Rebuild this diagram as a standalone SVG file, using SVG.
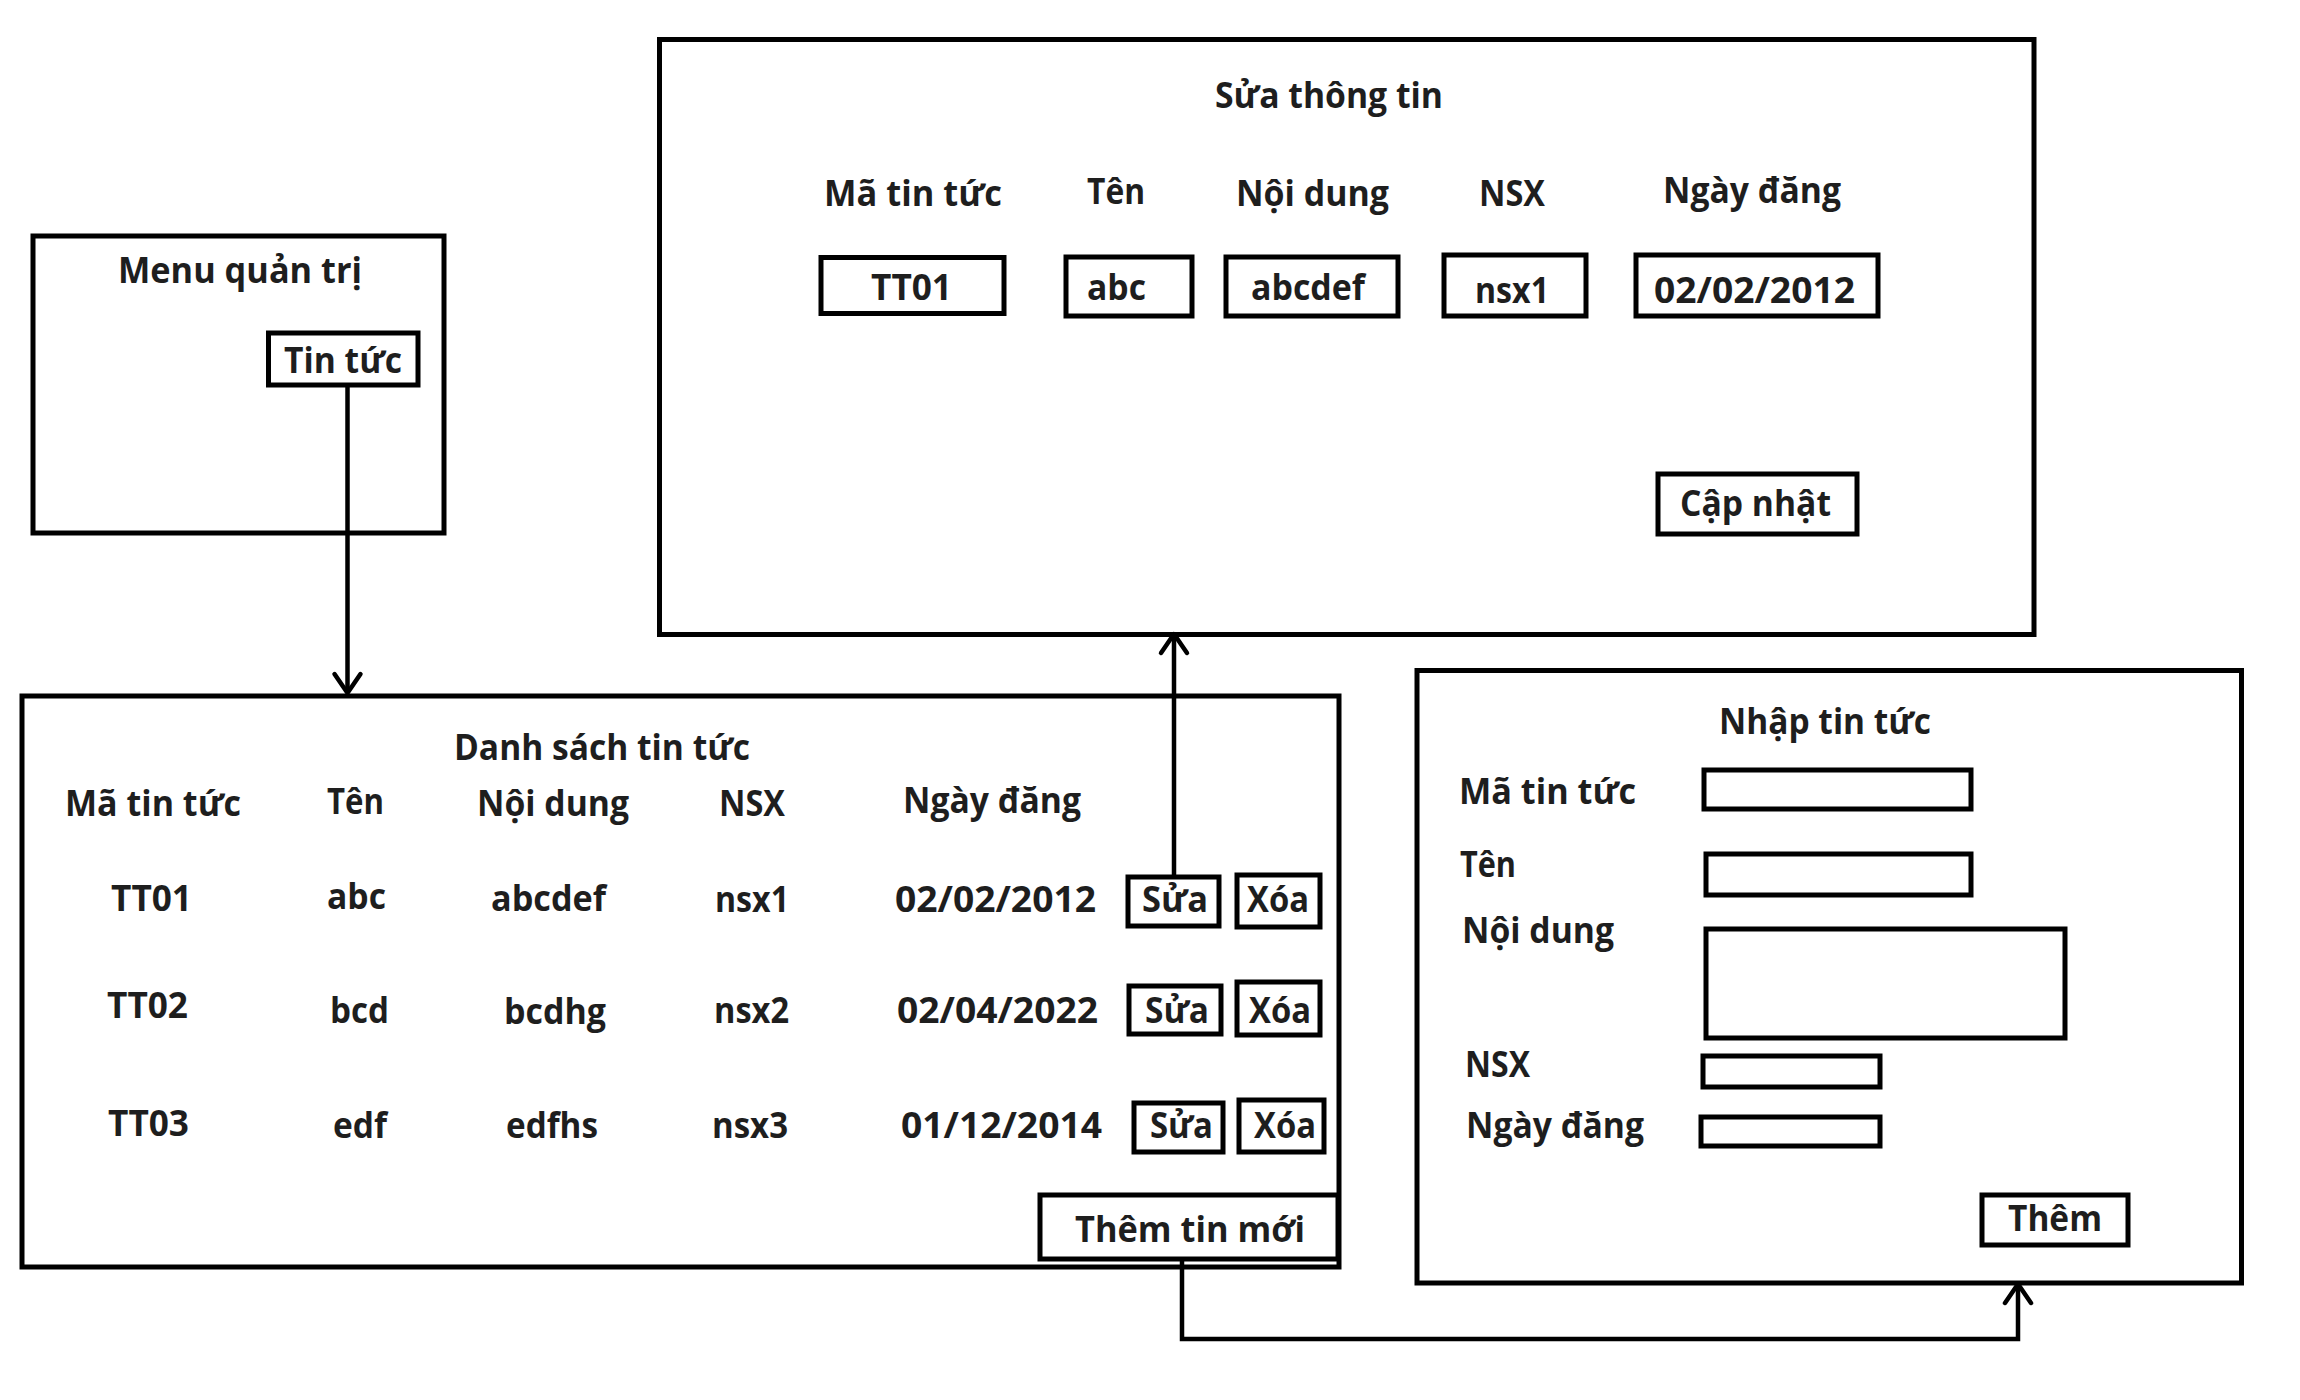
<svg xmlns="http://www.w3.org/2000/svg" width="2300" height="1400" viewBox="0 0 2300 1400">
<style>
.box{fill:#fff;stroke:#000;stroke-width:5}
.inp{fill:none;stroke:#000;stroke-width:5}
.t{font-family:"Open Sans","Noto Sans","DejaVu Sans",sans-serif;font-weight:700;font-size:36px;fill:#1e1e1e}
.conn{fill:none;stroke:#000;stroke-width:4.5}
</style>
<defs>
<marker id="arr" markerUnits="userSpaceOnUse" viewBox="-24 -18 28 36" markerWidth="28" markerHeight="36" refX="0" refY="0" orient="auto" overflow="visible">
<path d="M-19,-13 L0,0 L-19,13" fill="none" stroke="#000" stroke-width="4.5" stroke-linecap="round" stroke-linejoin="round"/>
</marker>
</defs>
<rect width="2300" height="1400" fill="#fff"/>

<g id="menu">
<rect class="box" x="33" y="236" width="411" height="297"/>
<text class="t" x="118" y="283" textLength="244" lengthAdjust="spacingAndGlyphs">Menu quản trị</text>
<rect class="inp" x="268.5" y="333" width="149.5" height="52"/>
<text class="t" x="284" y="373" textLength="118" lengthAdjust="spacingAndGlyphs">Tin tức</text>
</g>

<g id="sua-thong-tin">
<rect class="box" x="659.5" y="39.5" width="1374.5" height="595"/>
<text class="t" x="1215" y="108" textLength="228" lengthAdjust="spacingAndGlyphs">Sửa thông tin</text>
<text class="t" x="824" y="206" textLength="178" lengthAdjust="spacingAndGlyphs">Mã tin tức</text>
<text class="t" x="1087" y="204" textLength="58" lengthAdjust="spacingAndGlyphs">Tên</text>
<text class="t" x="1236" y="206" textLength="153" lengthAdjust="spacingAndGlyphs">Nội dung</text>
<text class="t" x="1479" y="206" textLength="66" lengthAdjust="spacingAndGlyphs">NSX</text>
<text class="t" x="1663" y="203" textLength="178" lengthAdjust="spacingAndGlyphs">Ngày đăng</text>
<rect class="inp" x="821" y="257.5" width="183" height="56"/>
<rect class="inp" x="1066" y="257" width="126" height="59"/>
<rect class="inp" x="1226" y="257" width="172" height="59"/>
<rect class="inp" x="1444" y="255" width="142" height="61"/>
<rect class="inp" x="1636" y="255" width="242" height="61"/>
<text class="t" x="871" y="300" textLength="81" lengthAdjust="spacingAndGlyphs">TT01</text>
<text class="t" x="1087" y="300" textLength="59" lengthAdjust="spacingAndGlyphs">abc</text>
<text class="t" x="1251" y="300" textLength="114" lengthAdjust="spacingAndGlyphs">abcdef</text>
<text class="t" x="1475" y="303" textLength="74" lengthAdjust="spacingAndGlyphs">nsx1</text>
<text class="t" x="1654" y="303" textLength="201" lengthAdjust="spacingAndGlyphs">02/02/2012</text>
<rect class="inp" x="1658" y="474" width="199" height="60"/>
<text class="t" x="1680" y="516" textLength="151" lengthAdjust="spacingAndGlyphs">Cập nhật</text>
</g>

<g id="danh-sach">
<rect class="box" x="22" y="696" width="1317" height="571"/>
<text class="t" x="454" y="760" textLength="296" lengthAdjust="spacingAndGlyphs">Danh sách tin tức</text>
<text class="t" x="65" y="816" textLength="176" lengthAdjust="spacingAndGlyphs">Mã tin tức</text>
<text class="t" x="327" y="814" textLength="57" lengthAdjust="spacingAndGlyphs">Tên</text>
<text class="t" x="477" y="816" textLength="152" lengthAdjust="spacingAndGlyphs">Nội dung</text>
<text class="t" x="719" y="816" textLength="66" lengthAdjust="spacingAndGlyphs">NSX</text>
<text class="t" x="903" y="813" textLength="178" lengthAdjust="spacingAndGlyphs">Ngày đăng</text>

<text class="t" x="111" y="911" textLength="81" lengthAdjust="spacingAndGlyphs">TT01</text>
<text class="t" x="327" y="909" textLength="59" lengthAdjust="spacingAndGlyphs">abc</text>
<text class="t" x="491" y="911" textLength="115" lengthAdjust="spacingAndGlyphs">abcdef</text>
<text class="t" x="715" y="912" textLength="74" lengthAdjust="spacingAndGlyphs">nsx1</text>
<text class="t" x="895" y="912" textLength="201" lengthAdjust="spacingAndGlyphs">02/02/2012</text>
<rect class="inp" x="1128" y="877" width="91" height="49"/>
<rect class="inp" x="1237" y="875" width="83" height="52"/>
<text class="t" x="1142" y="912" textLength="66" lengthAdjust="spacingAndGlyphs">Sửa</text>
<text class="t" x="1247" y="912" textLength="62" lengthAdjust="spacingAndGlyphs">Xóa</text>

<text class="t" x="107" y="1018" textLength="81" lengthAdjust="spacingAndGlyphs">TT02</text>
<text class="t" x="330" y="1023" textLength="59" lengthAdjust="spacingAndGlyphs">bcd</text>
<text class="t" x="504" y="1024" textLength="102" lengthAdjust="spacingAndGlyphs">bcdhg</text>
<text class="t" x="714" y="1023" textLength="75" lengthAdjust="spacingAndGlyphs">nsx2</text>
<text class="t" x="897" y="1023" textLength="201" lengthAdjust="spacingAndGlyphs">02/04/2022</text>
<rect class="inp" x="1129" y="986" width="92" height="48"/>
<rect class="inp" x="1237" y="982" width="83" height="53"/>
<text class="t" x="1145" y="1023" textLength="64" lengthAdjust="spacingAndGlyphs">Sửa</text>
<text class="t" x="1249" y="1023" textLength="62" lengthAdjust="spacingAndGlyphs">Xóa</text>

<text class="t" x="108" y="1136" textLength="81" lengthAdjust="spacingAndGlyphs">TT03</text>
<text class="t" x="333" y="1138" textLength="54" lengthAdjust="spacingAndGlyphs">edf</text>
<text class="t" x="506" y="1138" textLength="92" lengthAdjust="spacingAndGlyphs">edfhs</text>
<text class="t" x="712" y="1138" textLength="76" lengthAdjust="spacingAndGlyphs">nsx3</text>
<text class="t" x="901" y="1138" textLength="201" lengthAdjust="spacingAndGlyphs">01/12/2014</text>
<rect class="inp" x="1134" y="1103" width="89" height="49"/>
<rect class="inp" x="1239" y="1100" width="85" height="52"/>
<text class="t" x="1150" y="1138" textLength="63" lengthAdjust="spacingAndGlyphs">Sửa</text>
<text class="t" x="1254" y="1138" textLength="62" lengthAdjust="spacingAndGlyphs">Xóa</text>

<rect class="box" x="1040" y="1195" width="298" height="64"/>
<text class="t" x="1075" y="1242" textLength="230" lengthAdjust="spacingAndGlyphs">Thêm tin mới</text>
</g>

<g id="nhap-tin-tuc">
<rect class="box" x="1417" y="670.5" width="824.5" height="612.5"/>
<text class="t" x="1719" y="734" textLength="212" lengthAdjust="spacingAndGlyphs">Nhập tin tức</text>
<text class="t" x="1459" y="804" textLength="177" lengthAdjust="spacingAndGlyphs">Mã tin tức</text>
<rect class="inp" x="1704" y="770" width="267" height="39"/>
<text class="t" x="1460" y="877" textLength="56" lengthAdjust="spacingAndGlyphs">Tên</text>
<rect class="inp" x="1706" y="854" width="265" height="41"/>
<text class="t" x="1462" y="943" textLength="152" lengthAdjust="spacingAndGlyphs">Nội dung</text>
<rect class="inp" x="1706" y="929" width="359" height="109"/>
<text class="t" x="1465" y="1077" textLength="65" lengthAdjust="spacingAndGlyphs">NSX</text>
<rect class="inp" x="1703" y="1056" width="177" height="31"/>
<text class="t" x="1466" y="1138" textLength="178" lengthAdjust="spacingAndGlyphs">Ngày đăng</text>
<rect class="inp" x="1701" y="1117" width="179" height="29"/>
<rect class="inp" x="1982" y="1195" width="146" height="50"/>
<text class="t" x="2008" y="1231" textLength="94" lengthAdjust="spacingAndGlyphs">Thêm</text>
</g>

<g id="connectors">
<path class="conn" d="M347.5,387 V693" marker-end="url(#arr)"/>
<path class="conn" d="M1174,875 V634" marker-end="url(#arr)"/>
<path class="conn" d="M1182,1261 V1339 H2018 V1284" marker-end="url(#arr)"/>
</g>
</svg>
